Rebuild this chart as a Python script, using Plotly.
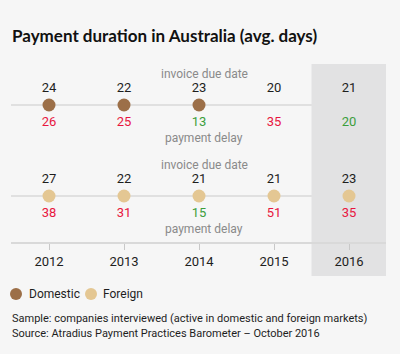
import plotly.graph_objects as go

# ---- data ----
years = [2012, 2013, 2014, 2015, 2016]
domestic_due = [24, 22, 23, 20, 21]
domestic_delay = [26, 25, 13, 35, 20]
domestic_dot_years = [2012, 2013, 2014]
foreign_due = [27, 22, 21, 21, 23]
foreign_delay = [38, 31, 15, 51, 35]
foreign_dot_years = [2012, 2013, 2014, 2015, 2016]
highlight_year = 2016

title = "Payment duration in Australia (avg. days)"
due_label = "invoice due date"
delay_label = "payment delay"
series_names = ["Domestic", "Foreign"]
notes = ["Sample: companies interviewed (active in domestic and foreign markets)",
         "Source: Atradius Payment Practices Barometer \u2013 October 2016"]

# ---- style / layout ----
W, H = 400, 354
BG = "#f6f6f6"
DOM_C = "#9c6f48"
FOR_C = "#e4c793"
RED = "#e8163f"
GREEN = "#3c9e3c"
DARK = "#1e1e1e"
GREY = "#8a8a8a"
LINE_C = "#d9d9d9"
BAND_C = "#e2e2e3"
FONT = "Roboto"

AX_BOTTOM = 242  # pixel y of axis line
x_left, x_right = 11, 386
px_per_year = 75
first_px = 49
x0 = years[0] - (first_px - x_left) / px_per_year
x1 = x0 + (x_right - x_left) / px_per_year

rows = {"Domestic": 105, "Foreign": 196}


def py(p):
    return (H - p) / H


fig = go.Figure()

def add_row(name, due, delay, dot_years, color, y):
    # invoice due numbers
    fig.add_trace(go.Scatter(x=years, y=[y - 16] * len(years), mode="text",
                             text=[str(v) for v in due],
                             textfont=dict(family=FONT, size=13, color=DARK),
                             showlegend=False, hoverinfo="skip", cliponaxis=False))
    # delay numbers
    cols = [GREEN if d < u else RED for d, u in zip(delay, due)]
    fig.add_trace(go.Scatter(x=years, y=[y + 18] * len(years), mode="text",
                             text=[str(v) for v in delay],
                             textfont=dict(family=FONT, size=13, color=cols),
                             showlegend=False, hoverinfo="skip", cliponaxis=False))
    # dots
    fig.add_trace(go.Scatter(x=dot_years, y=[y] * len(dot_years), mode="markers",
                             marker=dict(size=13, color=color, line=dict(width=0)),
                             name=name, showlegend=False, cliponaxis=False))
    # labels
    fig.add_annotation(x=2014.07, y=y - 31, text=due_label, showarrow=False,
                       font=dict(family=FONT, size=12, color=GREY))
    fig.add_annotation(x=2014.07, y=y + 33, text=delay_label, showarrow=False,
                       font=dict(family=FONT, size=12, color=GREY))
    fig.add_shape(type="line", xref="paper", yref="y", x0=x_left / W, x1=x_right / W,
                  y0=y, y1=y, line=dict(color=LINE_C, width=1.5), layer="below")


add_row("Domestic", domestic_due, domestic_delay, domestic_dot_years, DOM_C, rows["Domestic"])
add_row("Foreign", foreign_due, foreign_delay, foreign_dot_years, FOR_C, rows["Foreign"])

# highlight band
fig.add_shape(type="rect", xref="x", yref="paper", x0=highlight_year - 0.5, x1=highlight_year + 0.5,
              y0=py(276), y1=py(64), fillcolor=BAND_C, line=dict(width=0), layer="below")

# title
fig.add_annotation(xref="paper", yref="paper", x=10 / W, y=py(35), xanchor="left", yanchor="middle",
                   text="<b>" + title + "</b>", showarrow=False,
                   font=dict(family="Lato", size=17, color="#111111"))

# legend (manual)
leg = [(16, 27, series_names[0], DOM_C), (91, 101, series_names[1], FOR_C)]
for cx, tx, name, col in leg:
    fig.add_shape(type="circle", xref="paper", yref="paper", xsizemode="pixel", ysizemode="pixel",
                  xanchor=cx / W, yanchor=py(294), x0=-6, x1=6, y0=-6, y1=6,
                  fillcolor=col, line=dict(width=0))
    fig.add_annotation(xref="paper", yref="paper", x=tx / W, y=py(294), xanchor="left", yanchor="middle",
                       text=name, showarrow=False, font=dict(family=FONT, size=12, color=DARK))

for i, n in enumerate(notes):
    fig.add_annotation(xref="paper", yref="paper", x=10 / W, y=py(318 + 15 * i), xanchor="left",
                       yanchor="middle", text=n, showarrow=False,
                       font=dict(family=FONT, size=11, color=DARK))

fig.update_layout(
    width=W, height=H, margin=dict(l=0, r=0, t=0, b=0),
    paper_bgcolor=BG, plot_bgcolor="rgba(0,0,0,0)",
    xaxis=dict(domain=[x_left / W, x_right / W], range=[x0, x1],
               tickvals=years, ticktext=[str(y) for y in years],
               showgrid=False, zeroline=False, showline=True, linecolor=LINE_C, linewidth=2,
               ticks="outside", ticklen=6, tickcolor="#c8c8c8", tickwidth=1,
               tickfont=dict(family=FONT, size=13, color=DARK), fixedrange=True),
    yaxis=dict(domain=[py(AX_BOTTOM), 1], range=[AX_BOTTOM, 0], visible=False, fixedrange=True),
    showlegend=False,
)

fig.write_html("out.html")
